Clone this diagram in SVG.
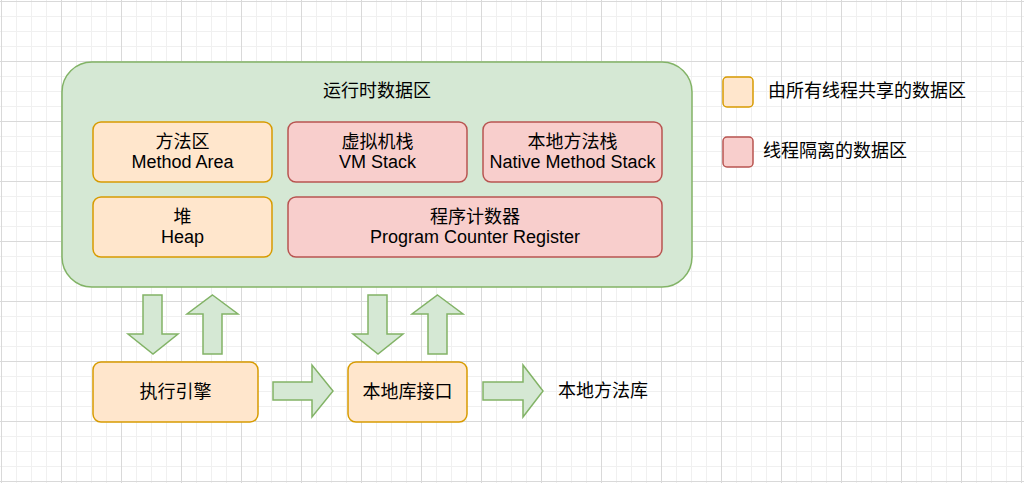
<svg xmlns="http://www.w3.org/2000/svg" width="1024" height="483" viewBox="0 0 1024 483">
<defs>
<pattern id="minor" x="1" y="1" width="15" height="15" patternUnits="userSpaceOnUse">
<path d="M0.5 0V15M0 0.5H15" stroke="#f0f0f0" stroke-width="1" fill="none"/>
</pattern>
<pattern id="major" x="1" y="1" width="60" height="60" patternUnits="userSpaceOnUse">
<path d="M0.5 0V60M0 0.5H60" stroke="#d9d9d9" stroke-width="1" fill="none"/>
</pattern>
<style>
text{font-family:"Liberation Sans","Noto Sans CJK SC",sans-serif;font-size:18px;fill:#000;text-anchor:middle;dominant-baseline:central}
.shared{fill:#ffe6cc;stroke:#d79b00;stroke-width:1.5}
.iso{fill:#f8cecc;stroke:#b85450;stroke-width:1.5}
.arrow{fill:#d5e8d4;stroke:#82b366;stroke-width:1.5;stroke-linejoin:miter}
.lt{text-anchor:start}
</style>
</defs>
<rect width="1024" height="483" fill="#ffffff"/>
<rect width="1024" height="483" fill="url(#minor)"/>
<rect width="1024" height="483" fill="url(#major)"/>

<g id="runtime-data-area">
<rect x="62" y="62" width="630" height="225" rx="30" ry="30" fill="#d5e8d4" stroke="#82b366" stroke-width="1.5"/>
<text x="377" y="91">运行时数据区</text>
</g>
<g id="method-area">
<rect class="shared" x="93" y="122" width="179" height="60" rx="8"/>
<text x="182.5" y="142">方法区</text>
<text x="182.5" y="162">Method Area</text>
</g>
<g id="vm-stack">
<rect class="iso" x="288" y="122" width="179" height="60" rx="8"/>
<text x="377.5" y="142">虚拟机栈</text>
<text x="377.5" y="162">VM Stack</text>
</g>
<g id="native-method-stack">
<rect class="iso" x="483" y="122" width="179" height="60" rx="8"/>
<text x="572.5" y="142">本地方法栈</text>
<text x="572.5" y="162">Native Method Stack</text>
</g>
<g id="heap">
<rect class="shared" x="93" y="197" width="179" height="60" rx="8"/>
<text x="182.5" y="217">堆</text>
<text x="182.5" y="237">Heap</text>
</g>
<g id="pc-register">
<rect class="iso" x="288" y="197" width="374" height="60" rx="8"/>
<text x="475" y="217">程序计数器</text>
<text x="475" y="237">Program Counter Register</text>
</g>
<g id="execution-engine">
<rect class="shared" x="93" y="362" width="165" height="60" rx="8"/>
<text x="175.5" y="392">执行引擎</text>
</g>
<g id="native-interface">
<rect class="shared" x="348" y="362" width="119" height="60" rx="8"/>
<text x="407.5" y="392">本地库接口</text>
</g>
<g id="native-library">
<text x="603" y="391">本地方法库</text>
</g>

<g id="connectors">
<polygon class="arrow" points="143,295 162,295 162,334 178,334 153,354 128,334 143,334"/>
<polygon class="arrow" points="212.5,295 238,314 222,314 222,354 203,354 203,314 187,314"/>
<polygon class="arrow" points="368,295 387,295 387,334 403,334 378,354 353,334 368,334"/>
<polygon class="arrow" points="437.5,295 463,314 447,314 447,354 428,354 428,314 412,314"/>
<polygon class="arrow" points="273,382 312,382 312,365 333,391 312,417 312,400 273,400"/>
<polygon class="arrow" points="483,382 523,382 523,365 543,391 523,417 523,400 483,400"/>
</g>

<g id="legend-shared">
<rect class="shared" x="723" y="77" width="30" height="30" rx="4"/>
<text class="lt" x="768" y="91">由所有线程共享的数据区</text>
</g>
<g id="legend-isolated">
<rect class="iso" x="723" y="137" width="30" height="30" rx="4"/>
<text class="lt" x="763" y="151">线程隔离的数据区</text>
</g>
</svg>
